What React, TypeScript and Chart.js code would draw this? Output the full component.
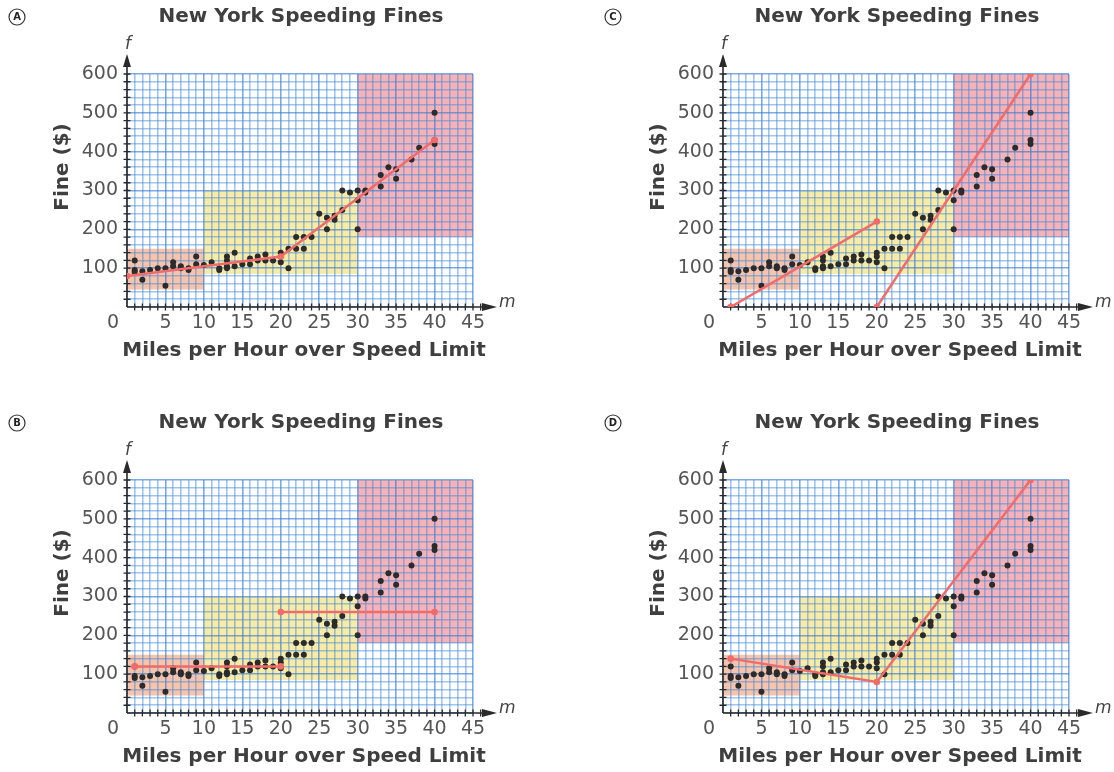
import React, { useEffect, useRef } from 'react';
import { Chart, registerables } from 'chart.js';

Chart.register(...registerables);

// ---------- text ----------
const CHART_TITLE = 'New York Speeding Fines';
const X_TITLE = 'Miles per Hour over Speed Limit';
const Y_TITLE = 'Fine ($)';
const X_TICK_LABELS = ['5', '10', '15', '20', '25', '30', '35', '40', '45'];
const Y_TICK_LABELS = ['100', '200', '300', '400', '500', '600'];
const ORIGIN_LABEL = '0';
const X_VAR = 'm';
const Y_VAR = 'f';

// ---------- scatter data (mph over limit, fine $) ----------
const mphOver = [
  1, 1, 1, 2, 2, 3, 4, 5, 5, 6, 6, 7, 7, 8, 8, 9, 9, 10, 11, 12, 12,
  13, 13, 13, 13, 14, 14, 15, 16, 16, 17, 17, 18, 18, 19, 20, 20, 20,
  21, 21, 22, 22, 23, 23, 24, 25, 26, 26, 27, 27, 28, 28, 29, 30, 30, 30,
  31, 31, 33, 33, 34, 35, 35, 37, 38, 40, 40, 40,
];
const fineDollars = [
  120, 95, 90, 92, 70, 95, 100, 100, 55, 115, 105, 105, 100, 100, 95, 130, 110, 108, 115, 100, 95,
  130, 120, 105, 100, 140, 105, 110, 125, 110, 130, 120, 135, 120, 120, 140, 130, 115,
  150, 100, 180, 150, 180, 150, 180, 240, 230, 200, 235, 225, 300, 250, 295, 300, 275, 200,
  300, 295, 340, 310, 360, 355, 330, 380, 410, 500, 430, 420,
];

// ---------- candidate models (red lines) ----------
const modelA_m = [0, 20, 40];
const modelA_f = [80, 130, 430];
const modelB1_m = [1, 20];
const modelB1_f = [120, 120];
const modelB2_m = [20, 40];
const modelB2_f = [260, 260];
const modelC1_m = [1, 20];
const modelC1_f = [0, 220];
const modelC2_m = [20, 40];
const modelC2_f = [0, 600];
const modelD_m = [1, 20, 40];
const modelD_f = [140, 80, 600];

// ---------- shaded zones [mFrom, mTo, fFrom, fTo] ----------
const zoneLow = [0, 10, 45, 150];
const zoneMid = [10, 30, 85, 300];
const zoneHigh = [30, 45, 180, 600];

const X_MAX = 45;
const Y_MAX = 600;

const PANELS = [
  { letter: 'A', left: 0, top: 0, lines: [[modelA_m, modelA_f]] },
  { letter: 'C', left: 596, top: 0, lines: [[modelC1_m, modelC1_f], [modelC2_m, modelC2_f]] },
  { letter: 'B', left: 0, top: 406, lines: [[modelB1_m, modelB1_f], [modelB2_m, modelB2_f]] },
  { letter: 'D', left: 596, top: 406, lines: [[modelD_m, modelD_f]] },
];

const CW = 518;
const CH = 366;
const RED = '#f26b6b';
const FONT = '"DejaVu Sans", Verdana, sans-serif';
const GRID_MINOR = 'rgba(70,140,215,0.5)';
const GRID_MAJOR = 'rgba(55,125,210,0.65)';

const decorPlugin = {
  id: 'decor',
  beforeDraw(chart: any) {
    const { ctx, scales } = chart;
    const x = scales.x;
    const y = scales.y;
    const zones: [number[], string][] = [
      [zoneLow, '#f7c3ab'],
      [zoneMid, '#f8eba6'],
      [zoneHigh, '#f5b2b8'],
    ];
    ctx.save();
    for (const [z, c] of zones) {
      const x1 = x.getPixelForValue(z[0]);
      const x2 = x.getPixelForValue(z[1]);
      const y1 = y.getPixelForValue(z[3]);
      const y2 = y.getPixelForValue(z[2]);
      ctx.fillStyle = c;
      ctx.fillRect(x1, y1, x2 - x1, y2 - y1);
    }
    ctx.restore();
  },
  beforeDatasetsDraw(chart: any) {
    const { ctx, scales } = chart;
    const x = scales.x;
    const y = scales.y;
    const x0 = x.getPixelForValue(0);
    const y0 = y.getPixelForValue(0);
    const xTip = x.getPixelForValue(X_MAX) + 24;
    const yTip = y.getPixelForValue(Y_MAX) - 20;
    ctx.save();
    ctx.strokeStyle = '#2a2a2a';
    ctx.fillStyle = '#2a2a2a';
    ctx.lineWidth = 1.6;
    // x axis
    ctx.beginPath();
    ctx.moveTo(x0, y0);
    ctx.lineTo(xTip - 12, y0);
    ctx.stroke();
    ctx.beginPath();
    ctx.moveTo(xTip, y0);
    ctx.lineTo(xTip - 15, y0 - 4);
    ctx.lineTo(xTip - 15, y0 + 4);
    ctx.closePath();
    ctx.fill();
    // y axis
    ctx.beginPath();
    ctx.moveTo(x0, y0);
    ctx.lineTo(x0, yTip + 10);
    ctx.stroke();
    ctx.beginPath();
    ctx.moveTo(x0, yTip);
    ctx.lineTo(x0 - 4, yTip + 13);
    ctx.lineTo(x0 + 4, yTip + 13);
    ctx.closePath();
    ctx.fill();
    // tick marks
    ctx.lineWidth = 1.3;
    ctx.beginPath();
    for (let v = 1; v <= 48; v++) {
      const px = x.getPixelForValue(v);
      if (px > xTip - 16) break;
      ctx.moveTo(px, y0 - 3.5);
      ctx.lineTo(px, y0 + 3.5);
    }
    for (let v = 20; v <= 640; v += 20) {
      const py = y.getPixelForValue(v);
      if (py < yTip + 14) break;
      ctx.moveTo(x0 - 3.5, py);
      ctx.lineTo(x0 + 3.5, py);
    }
    ctx.stroke();
    ctx.restore();
  },
  afterDraw(chart: any, _args: any, opts: any) {
    const { ctx, scales } = chart;
    const x = scales.x;
    const y = scales.y;
    const x0 = x.getPixelForValue(0);
    const y0 = y.getPixelForValue(0);
    const xTip = x.getPixelForValue(X_MAX) + 24;
    const yTip = y.getPixelForValue(Y_MAX) - 20;
    ctx.save();
    // title
    ctx.fillStyle = '#3f3f3f';
    ctx.font = `bold 20px ${FONT}`;
    ctx.textAlign = 'center';
    ctx.textBaseline = 'middle';
    ctx.fillText(CHART_TITLE, 301, 17);
    // x title
    ctx.fillText(X_TITLE, 304, 351);
    // y title
    ctx.save();
    ctx.translate(63, 167);
    ctx.rotate(-Math.PI / 2);
    ctx.fillText(Y_TITLE, 0, 0);
    ctx.restore();
    // origin label
    ctx.fillStyle = '#555';
    ctx.font = `19px ${FONT}`;
    ctx.fillText(ORIGIN_LABEL, x0 - 14, y0 + 16);
    // variable names
    ctx.fillStyle = '#444';
    ctx.font = `italic 17px ${FONT}`;
    ctx.textAlign = 'left';
    ctx.textBaseline = 'alphabetic';
    ctx.fillText(X_VAR, xTip + 2, y0);
    ctx.textAlign = 'center';
    ctx.fillText(Y_VAR, x0 + 1, yTip - 5);
    // circled letter
    ctx.strokeStyle = '#333';
    ctx.lineWidth = 1.2;
    ctx.beginPath();
    ctx.arc(17, 17, 8, 0, Math.PI * 2);
    ctx.stroke();
    ctx.fillStyle = '#222';
    ctx.font = `bold 10px ${FONT}`;
    ctx.textBaseline = 'middle';
    ctx.fillText(opts.letter, 17, 17.5);
    ctx.restore();
  },
};

function makeConfig(panel: any) {
  const lineSets = panel.lines.map(([ms, fs]: [number[], number[]]) => ({
    data: ms.map((m, i) => ({ x: m, y: fs[i] })),
    showLine: true,
    borderColor: RED,
    backgroundColor: RED,
    borderWidth: 2.5,
    pointRadius: 3.3,
    pointBorderWidth: 0,
  }));
  const pts = mphOver.map((m, i) => ({ x: m, y: fineDollars[i] }));
  const gridColor = (step: number) => (c: any) =>
    c.tick && c.tick.value % step === 0 ? GRID_MAJOR : GRID_MINOR;
  return {
    type: 'scatter',
    data: {
      datasets: [
        ...lineSets,
        { data: pts, backgroundColor: '#2b2b2b', pointRadius: 3, pointBorderWidth: 0 },
      ],
    },
    options: {
      responsive: false,
      animation: false,
      events: [],
      layout: { padding: { left: 67, right: CW - 473, top: 74, bottom: CH - 307 - 30 } },
      plugins: {
        legend: { display: false },
        tooltip: { enabled: false },
        decor: { letter: panel.letter },
      },
      scales: {
        x: {
          type: 'linear',
          min: 0,
          max: X_MAX,
          afterFit: (s: any) => { s.height = 30; },
          border: { display: false },
          grid: { drawTicks: false, color: gridColor(5), lineWidth: 1.6 },
          ticks: {
            stepSize: 1,
            autoSkip: false,
            maxRotation: 0,
            minRotation: 0,
            padding: 5,
            color: '#555',
            font: { family: FONT, size: 19 },
            callback: (v: any) => (X_TICK_LABELS.includes(String(v)) ? String(v) : ''),
          },
        },
        y: {
          type: 'linear',
          min: 0,
          max: Y_MAX,
          afterFit: (s: any) => { s.width = 60; },
          border: { display: false },
          grid: { drawTicks: false, color: gridColor(100), lineWidth: 1.6 },
          ticks: {
            stepSize: 20,
            autoSkip: false,
            padding: 9,
            color: '#555',
            font: { family: FONT, size: 19 },
            callback: (v: any) => (Y_TICK_LABELS.includes(String(v)) ? String(v) : ''),
          },
        },
      },
    },
    plugins: [decorPlugin],
  };
}

function Panel({ panel }: { panel: any }) {
  const ref = useRef<HTMLCanvasElement | null>(null);
  useEffect(() => {
    if (!ref.current) return;
    const chart = new Chart(ref.current, makeConfig(panel) as any);
    return () => chart.destroy();
  }, [panel]);
  return (
    <canvas
      ref={ref}
      width={CW}
      height={CH}
      style={{ position: 'absolute', left: panel.left, top: panel.top, width: CW, height: CH }}
    />
  );
}

export default function App() {
  return (
    <div style={{ position: 'fixed', left: 0, top: 0, width: 1114, height: 772, background: '#fff', overflow: 'hidden' }}>
      {PANELS.map((p) => (
        <Panel key={p.letter} panel={p} />
      ))}
    </div>
  );
}
